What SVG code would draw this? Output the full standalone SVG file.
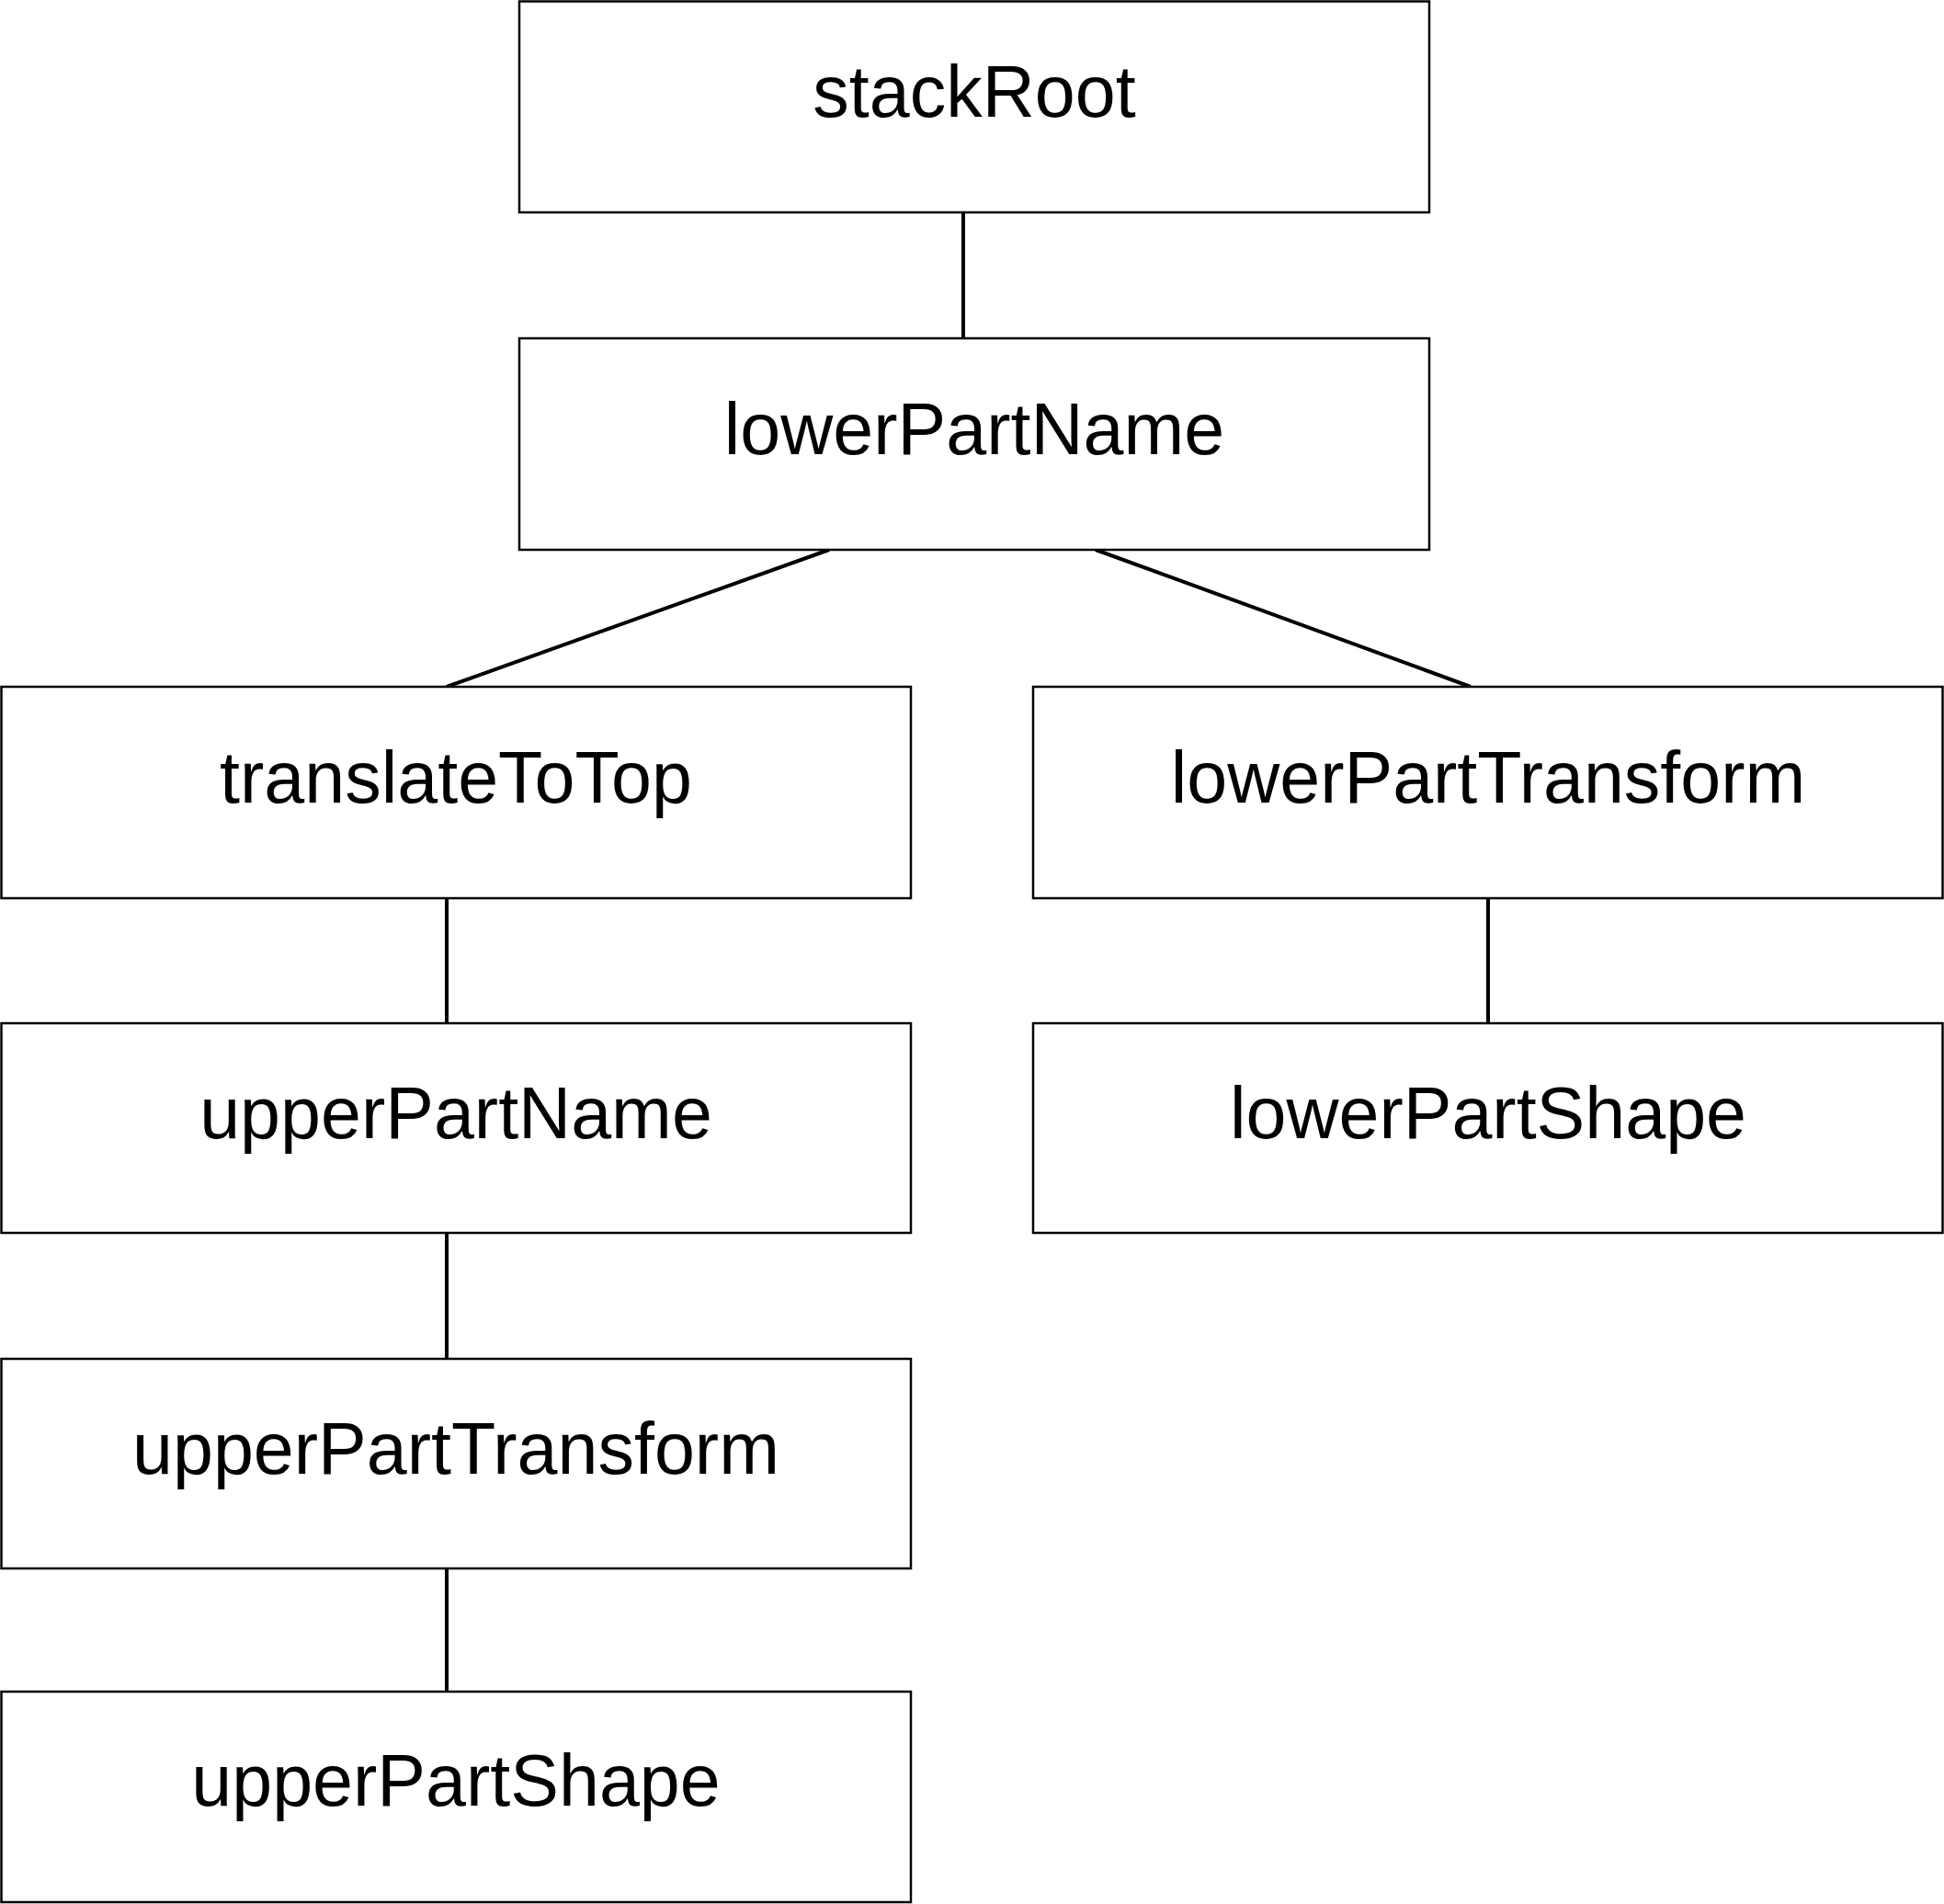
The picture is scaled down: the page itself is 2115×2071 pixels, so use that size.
<svg xmlns="http://www.w3.org/2000/svg" width="2115" height="2071" viewBox="0 0 2115 2071">
<style>
.box{fill:#fff;stroke:#000;stroke-width:2.5}
.lbl{font-family:"Liberation Sans",Arial,sans-serif;font-size:79px;fill:#000;text-anchor:middle}
.edge{stroke:#000;stroke-width:4;fill:none}
</style>
<rect width="2115" height="2071" fill="#fff"/>
<g id="connectors">
<line class="edge" x1="1048" y1="231" x2="1048" y2="368"/>
<line class="edge" x1="902" y1="598" x2="486" y2="747"/>
<line class="edge" x1="1192" y1="598" x2="1600" y2="747"/>
<line class="edge" x1="486" y1="977" x2="486" y2="1113"/>
<line class="edge" x1="1619" y1="977" x2="1619" y2="1113"/>
<line class="edge" x1="486" y1="1341" x2="486" y2="1478"/>
<line class="edge" x1="486" y1="1706" x2="486" y2="1840"/>
</g>
<g id="stackRoot"><rect class="box" x="565" y="1.5" width="990" height="229.5"/><text class="lbl" x="1060" y="127">stackRoot</text></g>
<g id="lowerPartName"><rect class="box" x="565" y="368" width="990" height="230"/><text class="lbl" x="1060" y="494">lowerPartName</text></g>
<g id="translateToTop"><rect class="box" x="1.5" y="747" width="989.5" height="230"/><text class="lbl" x="496" y="873">translateToTop</text></g>
<g id="lowerPartTransform"><rect class="box" x="1124" y="747" width="989.5" height="230"/><text class="lbl" x="1619" y="873">lowerPartTransform</text></g>
<g id="upperPartName"><rect class="box" x="1.5" y="1113" width="989.5" height="228"/><text class="lbl" x="496" y="1238">upperPartName</text></g>
<g id="lowerPartShape"><rect class="box" x="1124" y="1113" width="989.5" height="228"/><text class="lbl" x="1619" y="1238">lowerPartShape</text></g>
<g id="upperPartTransform"><rect class="box" x="1.5" y="1478" width="989.5" height="228"/><text class="lbl" x="496" y="1603">upperPartTransform</text></g>
<g id="upperPartShape"><rect class="box" x="1.5" y="1840" width="989.5" height="229"/><text class="lbl" x="496" y="1964">upperPartShape</text></g>
</svg>
